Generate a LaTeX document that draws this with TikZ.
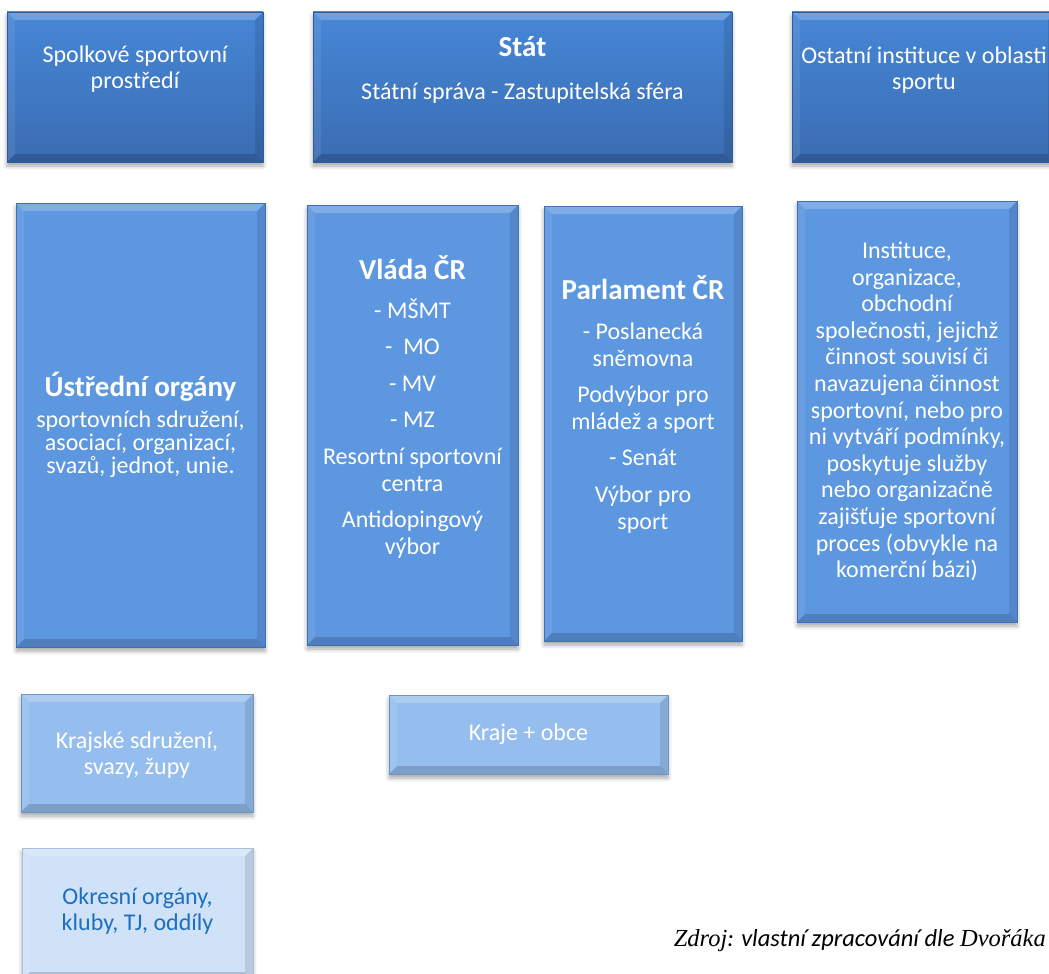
\documentclass[tikz,border=0pt]{standalone}
\usepackage{fontspec}
\setmainfont{Carlito}
\newfontfamily\timesfont{Liberation Serif}
\usetikzlibrary{shadows.blur}

\definecolor{topupper}{HTML}{4687D7}
\definecolor{toplower}{HTML}{3A6CB2}
\definecolor{topedge}{HTML}{2F5C9E}
\definecolor{midblue}{HTML}{5D97E0}
\definecolor{midedge}{HTML}{3F70B6}
\definecolor{lowblue}{HTML}{95BEEE}
\definecolor{lowedge}{HTML}{6E95C8}
\definecolor{paleblue}{HTML}{D0E2F8}
\definecolor{paleedge}{HTML}{A9BFDB}
\definecolor{paletext}{HTML}{1D6FC0}

\tikzset{
  bevel/.style={path picture={
    \path (path picture bounding box.north west) coordinate (bvA)
          (path picture bounding box.north east) coordinate (bvB)
          (path picture bounding box.south east) coordinate (bvC)
          (path picture bounding box.south west) coordinate (bvD);
    \fill[white,opacity=.22] (bvA) -- (bvB) -- ([shift={(-8pt,-8pt)}]bvB) -- ([shift={(8pt,-8pt)}]bvA) -- cycle;
    \fill[white,opacity=.08] (bvA) -- ([shift={(8pt,-8pt)}]bvA) -- ([shift={(8pt,8pt)}]bvD) -- (bvD) -- cycle;
    \fill[black,opacity=.10] (bvB) -- ([shift={(-8pt,-8pt)}]bvB) -- ([shift={(-8pt,8pt)}]bvC) -- (bvC) -- cycle;
    \fill[black,opacity=.16] (bvD) -- ([shift={(8pt,8pt)}]bvD) -- ([shift={(-8pt,8pt)}]bvC) -- (bvC) -- cycle;
  }},
  box/.style={anchor=north west, inner sep=0pt, outer sep=0pt, line width=.8pt, bevel,
    blur shadow={shadow xshift=0pt, shadow yshift=-4pt, shadow blur radius=4pt, shadow opacity=35}},
  topbox/.style={box, top color=topupper, bottom color=toplower, draw=topedge},
  midbox/.style={box, fill=midblue, draw=midedge},
  lowbox/.style={box, fill=lowblue, draw=lowedge},
  palebox/.style={box, fill=paleblue, draw=paleedge},
  txt/.style={text=white, align=center, inner sep=0pt, font=\fontsize{24}{26.6}\selectfont}
}
\newcommand{\hd}[1]{{\fontsize{29}{32}\selectfont\bfseries #1}}

\begin{document}
\begin{tikzpicture}[x=1pt, y=-1pt]

\clip (0,0) rectangle (1049,974);

%%%%%
%% top row
%%%%%
\node[topbox, minimum width=256, minimum height=150] (spolek) at (7,12) {};
\node[topbox, minimum width=419, minimum height=150] (stat) at (313,12) {};
\node[topbox, minimum width=264, minimum height=150] (ostatni) at (792,12) {};

\node[txt] (spolek-t) at ([yshift=18pt]spolek.center) {Spolkové sportovní\\prostředí};
\node[txt] (stat-t) at ([yshift=17pt]stat.center) {\hd{Stát}\\[16pt]Státní správa - Zastupitelská sféra};
\node[txt] (ostatni-t) at ([yshift=17pt]ostatni.center) {Ostatní instituce v oblasti\\sportu};

%%%%%
%% middle row
%%%%%
\node[midbox, minimum width=249, minimum height=444] (ustredni) at (16,203) {};
\node[midbox, minimum width=211, minimum height=440] (vlada) at (307,205) {};
\node[midbox, minimum width=198, minimum height=435] (parlament) at (544,206) {};
\node[midbox, minimum width=220, minimum height=421] (instituce) at (797,201) {};

\node[txt, font=\fontsize{24}{23}\selectfont] (ustredni-t) at (ustredni.center)
  {\hd{Ústřední orgány}\\[8pt]sportovních sdružení,\\asociací, organizací,\\svazů, jednot, unie.};
\node[txt] (vlada-t) at ([yshift=18pt]vlada.center)
  {\hd{Vláda ČR}\\[12pt]- MŠMT\\[10pt]-\ \ MO\\[10pt]- MV\\[10pt]- MZ\\[10pt]Resortní sportovní\\centra\\[10pt]Antidopingový\\výbor};
\node[txt] (parlament-t) at ([yshift=19pt]parlament.center)
  {\hd{Parlament ČR}\\[13pt]- Poslanecká\\sněmovna\\[10pt]Podvýbor pro\\mládež a sport\\[10pt]- Senát\\[10pt]Výbor pro\\sport};
\node[txt] (instituce-t) at (instituce.center)
  {Instituce,\\organizace,\\obchodní\\společnosti, jejichž\\činnost souvisí či\\navazujena činnost\\sportovní, nebo pro\\ni vytváří podmínky,\\poskytuje služby\\nebo organizačně\\zajišťuje sportovní\\proces (obvykle na\\komerční bázi)};

%%%%%
%% bottom rows
%%%%%
\node[lowbox, minimum width=232, minimum height=118] (krajske) at (21,694) {};
\node[lowbox, minimum width=279, minimum height=79] (kraje) at (389,695) {};
\node[palebox, minimum width=231, minimum height=132] (okresni) at (22,848) {};

\node[txt] (krajske-t) at ([yshift=-2pt]krajske.center) {Krajské sdružení,\\svazy, župy};
\node[txt] (kraje-t) at (kraje.center) {Kraje + obce};
\node[txt, text=paletext] (okresni-t) at ([yshift=3pt]okresni.center) {Okresní orgány,\\kluby, TJ, oddíly};

% source
\node[anchor=base east, inner sep=0pt, font=\fontsize{24.5}{27}\selectfont] (zdroj) at (1046,946)
  {{\timesfont\itshape Zdroj}\textit{: vlastní zpracování dle }{\timesfont\itshape Dvořáka}};

\end{tikzpicture}
\end{document}
